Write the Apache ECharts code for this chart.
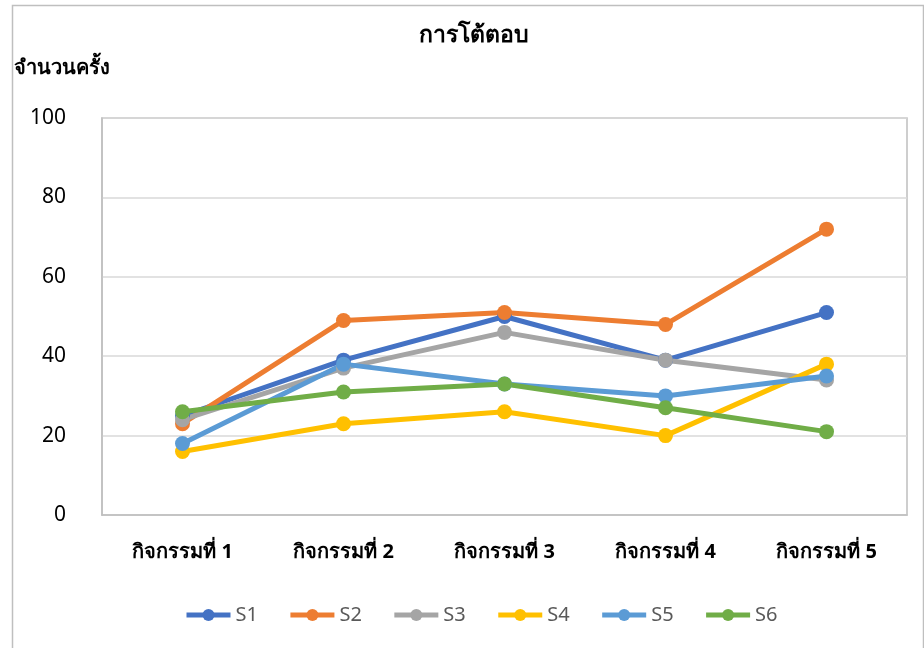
<!DOCTYPE html>
<html><head><meta charset="utf-8">
<script src="https://cdn.jsdelivr.net/npm/echarts@6/dist/echarts.min.js"></script>
<style>html,body{margin:0;padding:0;background:#fff}#c{width:924px;height:648px}</style>
</head><body><div id="c"></div>
<script>
const categories = ['กิจกรรมที่ 1','กิจกรรมที่ 2','กิจกรรมที่ 3','กิจกรรมที่ 4','กิจกรรมที่ 5'];
const seriesNames = ['S1','S2','S3','S4','S5','S6'];
const S1 = [25, 39, 50, 39, 51];
const S2 = [23, 49, 51, 48, 72];
const S3 = [24, 37, 46, 39, 34];
const S4 = [16, 23, 26, 20, 38];
const S5 = [18, 38, 33, 30, 35];
const S6 = [26, 31, 33, 27, 21];
const colors = ['#4472C4','#ED7D31','#A5A5A5','#FFC000','#5B9BD5','#70AD47'];
const allData = [S1,S2,S3,S4,S5,S6];
const chart = echarts.init(document.getElementById('c'));
chart.setOption({
  animation:false,
  color:colors,
  textStyle:{fontFamily:'Tahoma, "Noto Sans", "DejaVu Sans", sans-serif'},
  graphic:[{type:'rect',left:10,top:3,shape:{width:911,height:700},style:{fill:'none',stroke:'#bfbfbf',lineWidth:1.5},silent:true}],
  title:{text:'การโต้ตอบ',left:414,top:19,itemGap:0,textStyle:{fontSize:23,fontWeight:'bold',color:'#000'}},
  legend:{bottom:18,left:179,itemWidth:44,itemHeight:15,itemGap:30,
    lineStyle:{width:5},
    textStyle:{fontSize:20,color:'#595959'},data:seriesNames},
  grid:{left:102,right:17,top:118,bottom:133,show:true,borderColor:'#bfbfbf',borderWidth:1.5},
  xAxis:{type:'category',data:categories,boundaryGap:true,
    axisLine:{lineStyle:{color:'#bfbfbf',width:1.5}},axisTick:{show:false},
    axisLabel:{fontSize:20,fontWeight:'bold',color:'#000',margin:27}},
  yAxis:{type:'value',min:0,max:100,interval:20,name:'จำนวนครั้ง',
    nameLocation:'end',nameGap:40,nameTextStyle:{fontSize:20,fontWeight:'bold',color:'#000',align:'left',padding:[0,0,0,-88]},
    axisLine:{show:true,lineStyle:{color:'#bfbfbf',width:1.5}},axisTick:{show:false},
    axisLabel:{fontSize:21,color:'#000',margin:36},
    splitLine:{lineStyle:{color:'#d9d9d9',width:1.5}}},
  series:seriesNames.map((n,i)=>({name:n,type:'line',data:allData[i],symbol:'circle',symbolSize:15,
    lineStyle:{width:5,color:colors[i]},itemStyle:{color:colors[i]}}))
});
</script></body></html>
